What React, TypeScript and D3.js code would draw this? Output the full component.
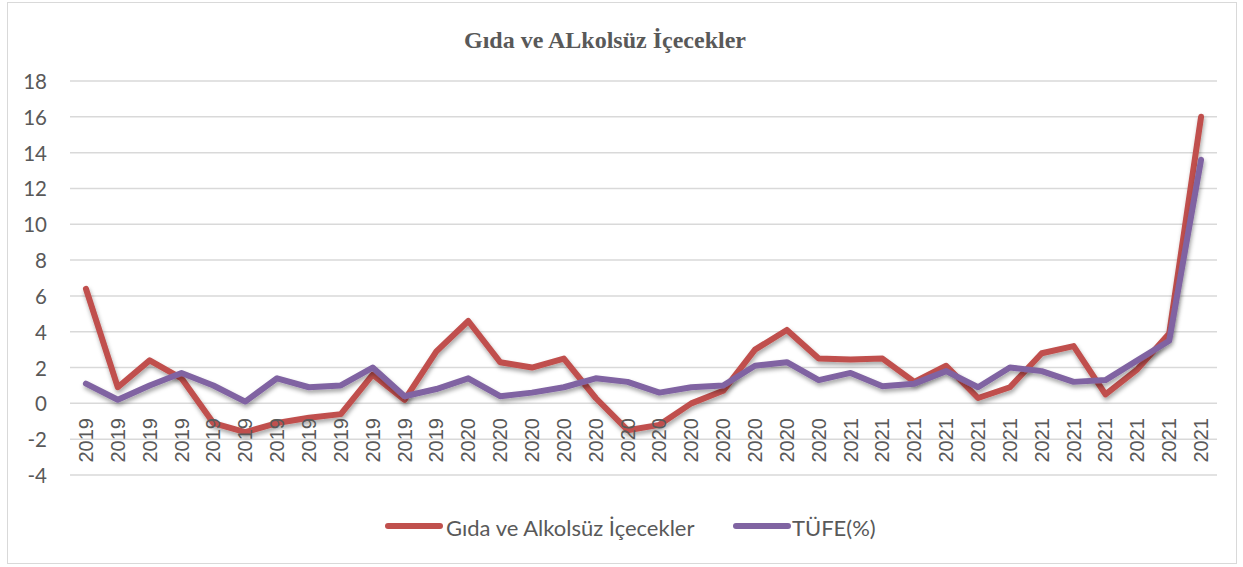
import React from "react";
import * as d3 from "d3";

const years: string[] = [
  "2019","2019","2019","2019","2019","2019","2019","2019","2019","2019","2019","2019",
  "2020","2020","2020","2020","2020","2020","2020","2020","2020","2020","2020","2020",
  "2021","2021","2021","2021","2021","2021","2021","2021","2021","2021","2021","2021",
];
const gida: number[] = [
  6.4, 0.9, 2.4, 1.4, -1.1, -1.6, -1.1, -0.8, -0.6, 1.6, 0.2, 2.9,
  4.6, 2.3, 2.0, 2.5, 0.3, -1.5, -1.2, 0.0, 0.7, 3.0, 4.1, 2.5,
  2.45, 2.5, 1.2, 2.1, 0.3, 0.9, 2.8, 3.2, 0.5, 1.9, 3.9, 16.0,
];
const tufe: number[] = [
  1.1, 0.2, 1.0, 1.7, 1.0, 0.1, 1.4, 0.9, 1.0, 2.0, 0.4, 0.8,
  1.4, 0.4, 0.6, 0.9, 1.4, 1.2, 0.6, 0.9, 1.0, 2.1, 2.3, 1.3,
  1.7, 0.95, 1.1, 1.8, 0.9, 2.0, 1.8, 1.2, 1.3, 2.4, 3.5, 13.6,
];
const yTicks: number[] = [-4, -2, 0, 2, 4, 6, 8, 10, 12, 14, 16, 18];
const title = "Gıda ve ALkolsüz İçecekler";
const seriesNames = ["Gıda ve Alkolsüz İçecekler", "TÜFE(%)"];
const colors = ["#C0504D", "#8064A2"];

export default function App() {
  const W = 1243, H = 567;
  const left = 70, right = 1217, top = 81, bottom = 475;
  const idx = d3.range(years.length);
  const x = d3.scaleBand<number>().domain(idx).range([left, right]);
  const y = d3.scaleLinear().domain([-4, 18]).range([bottom, top]);
  const cx = (i: number) => (x(i) as number) + x.bandwidth() / 2;
  const line = d3.line<number>().x((_, i) => cx(i)).y((d) => y(d));
  const textColor = "#595959";
  return (
    <svg width={W} height={H} style={{ position: "absolute", left: 0, top: 0, background: "#fff" }}>
      <defs>
        <filter id="sh" x="-10%" y="-10%" width="120%" height="130%">
          <feDropShadow dx="1" dy="3" stdDeviation="2" floodColor="#000" floodOpacity="0.35" />
        </filter>
      </defs>
      <rect x={7.5} y={2.5} width={1229} height={561} fill="#fff" stroke="#d9d9d9" strokeWidth={1} />
      <text x={605} y={48} textAnchor="middle" fontFamily="'Liberation Serif', serif" fontWeight="bold" fontSize={24} fill={textColor}>
        {title}
      </text>
      {yTicks.map((t) => (
        <g key={t}>
          <line x1={left} x2={right} y1={y(t)} y2={y(t)} stroke="#d9d9d9" strokeWidth={1.5} />
          <text x={47} y={y(t)} textAnchor="end" dominantBaseline="central" fontFamily="Lato, sans-serif" fontSize={20.5} fill={textColor}>
            {t}
          </text>
        </g>
      ))}
      {[gida, tufe].map((s, k) => (
        <path key={k} d={line(s) || ""} fill="none" stroke={colors[k]} strokeWidth={6} strokeLinejoin="round" strokeLinecap="round" filter="url(#sh)" />
      ))}
      {years.map((yr, i) => (
        <text key={i} transform={`translate(${cx(i)},${418}) rotate(-90)`} textAnchor="end" dominantBaseline="central" fontFamily="'Liberation Sans', Arial, sans-serif" fontSize={20} fill={textColor}>
          {yr}
        </text>
      ))}
      <g>
        <line x1={388} x2={440} y1={526} y2={526} stroke={colors[0]} strokeWidth={6} strokeLinecap="round" />
        <text x={446} y={527} dominantBaseline="central" fontFamily="Lato, sans-serif" fontSize={22} fill={textColor}>{seriesNames[0]}</text>
        <line x1={736} x2={788} y1={526} y2={526} stroke={colors[1]} strokeWidth={6} strokeLinecap="round" />
        <text x={792} y={527} dominantBaseline="central" fontFamily="Lato, sans-serif" fontSize={22} fill={textColor}>{seriesNames[1]}</text>
      </g>
    </svg>
  );
}
